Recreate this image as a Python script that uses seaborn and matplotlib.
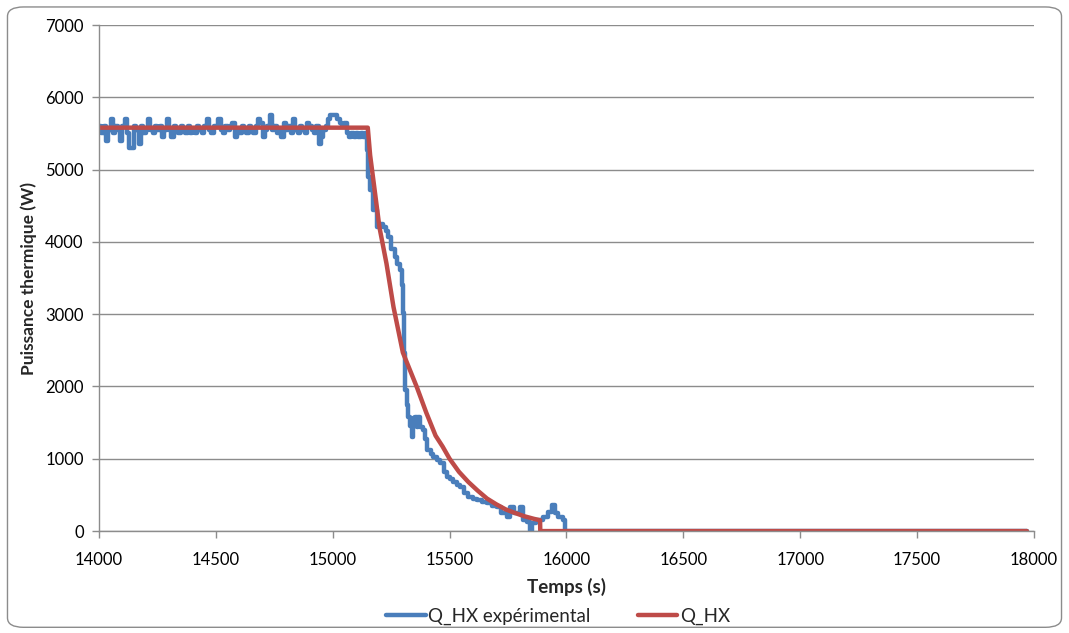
import numpy as np
import pandas as pd
import matplotlib.pyplot as plt
from matplotlib.patches import FancyBboxPatch
import seaborn as sns


flat_t = list(range(14000, 15150, 10))
flat_q = [5600, 5500, 5600, 5400, 5550, 5700, 5500, 5600, 5550, 5400,
          5600, 5700, 5500, 5300, 5300, 5600, 5550, 5350, 5600, 5500,
          5550, 5700, 5550, 5500, 5600, 5550, 5600, 5450, 5550, 5700,
          5550, 5450, 5600, 5550, 5500, 5600, 5550, 5500, 5600, 5500,
          5550, 5500, 5600, 5550, 5500, 5600, 5700, 5550, 5500, 5600,
          5600, 5700, 5550, 5500, 5600, 5550, 5600, 5650, 5450, 5550,
          5500, 5600, 5550, 5500, 5600, 5550, 5500, 5600, 5700, 5650,
          5450, 5550, 5600, 5750, 5550, 5600, 5500, 5550, 5450, 5650,
          5550, 5600, 5500, 5700, 5550, 5500, 5600, 5550, 5500, 5650,
          5600, 5550, 5500, 5600, 5350, 5450, 5550, 5600, 5700, 5750,
          5750, 5750, 5700, 5650, 5600, 5650, 5500, 5450, 5500, 5450,
          5500, 5450, 5500, 5450, 5500]
drop_t = [15145, 15151, 15159, 15172, 15188, 15200, 15215, 15230, 15236, 15250,
          15266, 15275, 15288, 15295, 15302, 15306, 15309, 15316, 15323, 15330,
          15338, 15345, 15352, 15360, 15366, 15373, 15386, 15395, 15403, 15420,
          15429, 15445, 15459, 15475, 15489, 15500, 15514, 15530, 15544, 15560,
          15579, 15600, 15617, 15640, 15660, 15680, 15703, 15720, 15745, 15760,
          15775, 15788, 15800, 15814, 15830, 15844, 15852, 15870, 15900, 15920,
          15938, 15950, 15964, 15985, 15994, 17970]
drop_q = [5270, 4900, 4720, 4440, 4210, 4250, 4200, 4150, 4070, 3900,
          3790, 3700, 3610, 3400, 3015, 2460, 1950, 1750, 1580, 1450,
          1300, 1560, 1580, 1440, 1580, 1440, 1400, 1280, 1120, 1060,
          1020, 980, 940, 820, 750, 720, 680, 640, 610, 530,
          470, 450, 430, 400, 390, 350, 330, 250, 195, 330,
          250, 250, 330, 150, 120, 0, 110, 150, 200, 260,
          360, 250, 195, 150, 0, 0]

# Model
model_t = [14000, 15150, 15160, 15180, 15200, 15230, 15260, 15300, 15330, 15360,
           15400, 15440, 15470, 15500, 15540, 15580, 15620, 15660, 15700, 15740,
           15780, 15820, 15860, 15887, 15888, 17970]
model_q = [5580, 5580, 5200, 4700, 4200, 3700, 3100, 2470, 2230, 1990,
           1640, 1320, 1170, 1000, 820, 680, 560, 450, 370, 300,
           250, 205, 170, 150, 0, 0]

exp_df = pd.DataFrame({'t': flat_t + drop_t, 'Q': flat_q + drop_q})
mod_df = pd.DataFrame({'t': model_t, 'Q': model_q})

sns.set_theme(style='white')
plt.rcParams['font.family'] = ['Lato', 'DejaVu Sans']

fig = plt.figure(figsize=(10.69, 6.33), dpi=100)
ax = fig.add_axes([0.0926, 0.161, 0.8746, 0.7995])

sns.lineplot(x='t', y='Q', data=exp_df, color='#4A7EBB', linewidth=3.2,
             sort=False, estimator=None, drawstyle='steps-post',
             label='Q_HX expérimental', ax=ax)
sns.lineplot(x='t', y='Q', data=mod_df, color='#BE4B48', linewidth=3.2,
             sort=False, estimator=None, label='Q_HX', ax=ax)

ax.set_xlim(14000, 18000)
ax.set_ylim(0, 7000)
ax.set_xticks(np.arange(14000, 18001, 500))
ax.set_yticks(np.arange(0, 7001, 1000))
ax.yaxis.grid(True, color='#8c8c8c', linewidth=1)
ax.xaxis.grid(False)
ax.set_axisbelow(True)
for side in ['top', 'right']:
    ax.spines[side].set_visible(False)
for side in ['left', 'bottom']:
    ax.spines[side].set_color('#8c8c8c')
    ax.spines[side].set_linewidth(1)
ax.tick_params(axis='both', direction='out', length=5, width=1,
               color='#8c8c8c', labelsize=12, labelcolor='black')
ax.tick_params(axis='y', left=True, pad=6)
ax.tick_params(axis='x', bottom=True, pad=10)
ax.set_xlabel('Temps (s)', fontsize=13.5, fontweight='bold', labelpad=7)
ax.set_ylabel('Puissance thermique (W)', fontsize=12.5, fontweight='bold',
              labelpad=6)
ax.legend(loc='center', bbox_to_anchor=(0.522, 0.026),
          bbox_transform=fig.transFigure, ncol=2, frameon=False,
          fontsize=13.5, handlelength=2.1, columnspacing=2.5,
          handletextpad=0.15, borderpad=0)

border = FancyBboxPatch((0.007, 0.009), 0.986, 0.98,
                        boxstyle='round,pad=0,rounding_size=0.015',
                        transform=fig.transFigure, facecolor='none',
                        edgecolor='#8c8c8c', linewidth=1)
fig.patches.append(border)

plt.savefig('out.png', dpi=100)
